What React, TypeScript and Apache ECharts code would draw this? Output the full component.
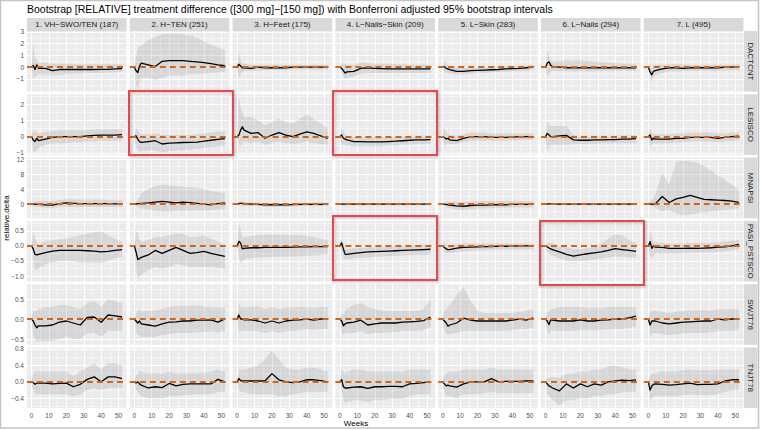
import React, { useEffect, useRef } from "react";
import * as echarts from "echarts";

const TITLE =
  "Bootstrap [RELATIVE] treatment difference ([300 mg]\u2212[150 mg]) with Bonferroni adjusted 95% bootstrap intervals";
const X_TITLE = "Weeks";
const Y_TITLE = "relative.delta";

const WEEKS = [0, 1, 2, 3, 4, 8, 12, 16, 20, 24, 28, 32, 36, 40, 44, 48, 52];
const FACETS = [
  "1. VH\u2212SWO/TEN (187)",
  "2. H\u2212TEN (251)",
  "3. H\u2212Feet (175)",
  "4. L\u2212Nails\u2212Skin (209)",
  "5. L\u2212Skin (283)",
  "6. L\u2212Nails (294)",
  "7. L (495)",
];
const OUTCOMES = ["DACTCNT", "LESISCO", "MNAPSI", "PASI_PSTSCO", "SWJT76", "TNJT78"];

const X_RANGE = [-2.6, 54.6];
const X_TICKS = [0, 10, 20, 30, 40, 50];
const X_MINOR = [5, 15, 25, 35, 45];
const Y_RANGES = [
  [-2.08, 3.08],
  [-1.12, 2.6],
  [-3.8, 12.45],
  [-1.18, 0.83],
  [-0.645, 0.87],
  [-0.64, 0.836],
];
const Y_TICKS = [
  [-1, 0, 1, 2, 3],
  [-1, 0, 1, 2],
  [0, 4, 8, 12],
  [-1, -0.5, 0, 0.5],
  [-0.5, 0, 0.5],
  [-0.4, 0, 0.4, 0.8],
];
const Y_MINOR = [
  [-1.5, -0.5, 0.5, 1.5, 2.5],
  [-0.5, 0.5, 1.5, 2.5],
  [-2, 2, 6, 10],
  [-0.75, -0.25, 0.25, 0.75],
  [-0.25, 0.25, 0.75],
  [-0.6, -0.2, 0.2, 0.6],
];
const Y_DECIMALS = [0, 0, 0, 1, 1, 1];

// ---------- DACTCNT ----------
const DACTCNT_MID = [
  [0, 0.15, -0.2, 0.2, -0.1, -0.1, -0.3, -0.2, -0.2, -0.2, -0.2, -0.2, -0.2, -0.18, -0.18, -0.15, -0.12],
  [0, -0.3, -0.45, 0.1, 0.35, 0.2, 0.05, 0.5, 0.55, 0.55, 0.55, 0.5, 0.45, 0.38, 0.3, 0.2, 0.12],
  [0, 0.25, 0.1, -0.05, -0.05, -0.1, 0, -0.05, -0.05, -0.05, -0.05, 0, 0, 0, 0, 0, 0],
  [0, -0.1, -0.3, -0.5, -0.4, -0.35, -0.1, -0.05, -0.1, -0.12, -0.15, -0.15, -0.15, -0.15, -0.15, -0.15, -0.15],
  [0, 0.05, -0.1, -0.15, -0.2, -0.35, -0.35, -0.3, -0.28, -0.25, -0.22, -0.2, -0.15, -0.12, -0.1, -0.05, 0],
  [0, 0.35, 0.45, 0.15, 0.05, 0, -0.05, -0.05, -0.05, -0.05, -0.05, -0.05, -0.05, -0.05, -0.05, -0.05, -0.05],
  [0, -0.4, -0.65, -0.35, -0.3, -0.15, -0.05, -0.05, -0.1, -0.05, -0.05, -0.05, -0.05, -0.05, 0, 0, 0.05],
];
const DACTCNT_LO = [
  [0, -0.95, -0.8, -0.7, -0.6, -0.65, -0.7, -0.65, -0.6, -0.55, -0.55, -0.5, -0.5, -0.5, -0.45, -0.45, -0.4],
  [0, -1.5, -1.84, -1.3, -0.9, -0.9, -1.1, -0.9, -0.7, -0.7, -0.7, -0.6, -0.6, -0.55, -0.5, -0.45, -0.4],
  [0, -1.0, -0.6, -0.4, -0.3, -0.3, -0.3, -0.25, -0.25, -0.25, -0.25, -0.2, -0.2, -0.2, -0.2, -0.2, -0.2],
  [0, -0.5, -0.8, -0.95, -0.9, -0.8, -0.55, -0.5, -0.5, -0.5, -0.5, -0.5, -0.5, -0.5, -0.5, -0.5, -0.5],
  [0, -0.5, -0.5, -0.5, -0.55, -0.6, -0.6, -0.55, -0.5, -0.5, -0.45, -0.4, -0.4, -0.35, -0.3, -0.3, -0.25],
  [0, -0.8, -0.6, -0.4, -0.3, -0.3, -0.35, -0.35, -0.35, -0.35, -0.35, -0.35, -0.3, -0.3, -0.3, -0.3, -0.3],
  [0, -0.9, -1.2, -0.8, -0.7, -0.5, -0.35, -0.35, -0.35, -0.3, -0.3, -0.3, -0.3, -0.3, -0.3, -0.25, -0.25],
];
const DACTCNT_HI = [
  [0, 2.0, 0.8, 0.6, 0.4, 0.4, 0.3, 0.3, 0.3, 0.25, 0.25, 0.25, 0.25, 0.25, 0.25, 0.25, 0.25],
  [0, 1.0, 1.6, 1.8, 1.8, 2.3, 2.6, 2.8, 2.85, 2.85, 2.8, 2.7, 2.5, 2.2, 1.9, 1.7, 1.5],
  [0, 1.4, 0.6, 0.3, 0.3, 0.2, 0.2, 0.2, 0.2, 0.2, 0.2, 0.2, 0.2, 0.2, 0.2, 0.2, 0.2],
  [0, 0.3, 0.3, 0.3, 0.2, 0.2, 0.4, 0.35, 0.3, 0.3, 0.3, 0.25, 0.25, 0.2, 0.2, 0.2, 0.2],
  [0, 0.6, 0.3, 0.2, 0.1, -0.05, -0.05, -0.05, -0.05, -0.02, 0, 0.05, 0.05, 0.1, 0.1, 0.15, 0.2],
  [0, 1.4, 1.0, 0.6, 0.5, 0.5, 0.6, 0.6, 0.6, 0.55, 0.5, 0.45, 0.4, 0.35, 0.3, 0.3, 0.3],
  [0, 0.2, 0, 0.2, 0.2, 0.2, 0.25, 0.25, 0.25, 0.2, 0.2, 0.2, 0.2, 0.2, 0.2, 0.2, 0.25],
];

// ---------- LESISCO ----------
const LESISCO_MID = [
  [0, -0.2, -0.3, -0.1, -0.25, -0.15, -0.05, 0, 0, 0, 0, 0.05, 0.08, 0.1, 0.1, 0.1, 0.12],
  [0, 0.05, -0.15, -0.3, -0.35, -0.3, -0.25, -0.45, -0.4, -0.38, -0.36, -0.35, -0.33, -0.28, -0.22, -0.17, -0.12],
  [0, 0.1, 0.4, 0.6, 0.4, 0.2, 0.25, -0.1, 0.1, 0.25, 0.1, 0, 0.15, 0.3, 0.2, 0.05, -0.1],
  [0, 0.1, -0.1, -0.15, -0.2, -0.3, -0.3, -0.32, -0.32, -0.32, -0.3, -0.28, -0.25, -0.22, -0.2, -0.2, -0.18],
  [0, -0.05, -0.15, -0.1, -0.2, -0.25, -0.1, 0, 0, 0, -0.05, -0.05, -0.05, -0.03, 0, 0, 0],
  [0, 0.2, 0.1, 0, 0, 0.05, 0.08, -0.2, -0.22, -0.22, -0.2, -0.2, -0.18, -0.18, -0.15, -0.15, -0.12],
  [0, 0.1, -0.2, -0.1, -0.15, -0.15, -0.15, -0.1, -0.1, -0.05, -0.05, -0.05, -0.05, -0.1, -0.05, 0, 0.03],
];
const LESISCO_LO = [
  [0, -0.9, -0.95, -0.8, -0.7, -0.5, -0.4, -0.4, -0.4, -0.35, -0.35, -0.3, -0.3, -0.25, -0.25, -0.25, -0.25],
  [0, -0.6, -0.8, -0.9, -0.9, -0.85, -0.85, -0.95, -0.9, -0.85, -0.85, -0.8, -0.75, -0.7, -0.65, -0.6, -0.55],
  [0, -0.5, -0.6, -0.3, -0.3, -0.4, -0.3, -0.5, -0.4, -0.3, -0.4, -0.45, -0.4, -0.3, -0.4, -0.45, -0.5],
  [0, -0.5, -0.5, -0.5, -0.55, -0.6, -0.6, -0.6, -0.6, -0.6, -0.55, -0.55, -0.5, -0.5, -0.45, -0.45, -0.45],
  [0, -0.6, -0.5, -0.4, -0.45, -0.45, -0.35, -0.25, -0.25, -0.25, -0.25, -0.25, -0.25, -0.22, -0.2, -0.2, -0.2],
  [0, -0.9, -0.6, -0.5, -0.5, -0.5, -0.5, -0.45, -0.45, -0.45, -0.45, -0.4, -0.4, -0.4, -0.4, -0.4, -0.4],
  [0, -0.6, -0.5, -0.4, -0.4, -0.4, -0.4, -0.35, -0.35, -0.3, -0.3, -0.3, -0.3, -0.35, -0.3, -0.25, -0.2],
];
const LESISCO_HI = [
  [0, 0.5, 0.3, 0.3, 0.2, 0.3, 0.35, 0.4, 0.4, 0.4, 0.4, 0.4, 0.45, 0.45, 0.45, 0.45, 0.45],
  [0, 0.6, 0.4, 0.2, 0.15, 0.15, 0.2, 0.1, 0.1, 0.1, 0.1, 0.1, 0.15, 0.2, 0.25, 0.3, 0.35],
  [0, 2.43, 1.8, 1.5, 1.2, 1.2, 1.0, 0.7, 0.9, 1.1, 0.9, 0.8, 1.1, 1.35, 1.1, 0.8, 0.5],
  [0, 0.6, 0.3, 0.1, 0.05, 0, 0, -0.02, -0.02, -0.02, 0, 0, 0.02, 0.05, 0.05, 0.05, 0.08],
  [0, 0.55, 0.3, 0.2, 0.1, 0.05, 0.15, 0.25, 0.25, 0.25, 0.2, 0.2, 0.2, 0.2, 0.2, 0.2, 0.2],
  [0, 1.0, 0.7, 0.65, 0.65, 0.65, 0.65, 0.1, 0.05, 0.05, 0.05, 0.05, 0.05, 0.05, 0.08, 0.08, 0.1],
  [0, 0.6, 0.2, 0.2, 0.15, 0.15, 0.15, 0.2, 0.2, 0.25, 0.25, 0.25, 0.25, 0.2, 0.2, 0.25, 0.25],
];

// ---------- MNAPSI ----------
const MNAPSI_MID = [
  [0, 0, 0, -0.1, -0.1, -0.2, -0.3, 0.1, 0.3, 0.2, 0.1, 0.1, 0.1, 0.1, 0.1, 0.05, 0.05],
  [0, 0, 0.1, 0.1, 0.2, 0.3, 0.5, 0.7, 0.5, 0.3, 0.5, 0.4, 0.2, 0, -0.2, 0.1, 0.3],
  [0, 0.1, 0.2, 0.2, 0.1, 0, -0.1, -0.2, -0.2, -0.2, -0.2, -0.15, -0.1, -0.1, -0.1, -0.1, -0.1],
  [0, 0, 0, 0, -0.05, -0.05, -0.05, -0.05, -0.05, -0.05, -0.05, -0.05, -0.05, -0.05, -0.05, -0.05, -0.05],
  [0, -0.1, -0.1, -0.2, -0.3, -0.5, -0.6, -0.4, -0.3, -0.3, -0.2, -0.2, -0.2, -0.1, -0.1, -0.1, -0.1],
  [0, 0, 0.05, 0.05, 0, 0, 0, 0, 0, 0, 0, 0, 0, 0, 0, 0, 0],
  [0, 0, 0, 0, 0.05, 2.0, 0.4, 1.4, 1.8, 2.3, 1.8, 1.25, 1.15, 1.07, 0.95, 0.8, 0.45],
];
const MNAPSI_LO = [
  [0, -0.6, -0.6, -0.8, -0.8, -1.0, -1.2, -0.8, -0.7, -0.8, -0.8, -0.8, -0.8, -0.8, -0.8, -0.8, -0.8],
  [0, -0.5, -0.8, -1.0, -1.2, -1.5, -1.8, -2.0, -2.0, -1.8, -1.8, -1.8, -1.7, -1.7, -1.7, -1.5, -1.4],
  [0, -0.4, -0.4, -0.4, -0.5, -0.6, -0.6, -0.7, -0.7, -0.7, -0.7, -0.6, -0.6, -0.6, -0.6, -0.6, -0.6],
  [0, -0.2, -0.3, -0.3, -0.3, -0.35, -0.35, -0.35, -0.35, -0.35, -0.35, -0.35, -0.35, -0.35, -0.35, -0.35, -0.35],
  [0, -0.6, -0.7, -0.9, -1.1, -1.4, -1.6, -1.4, -1.2, -1.2, -1.1, -1.0, -1.0, -0.9, -0.9, -0.9, -0.9],
  [0, -0.2, -0.25, -0.25, -0.25, -0.3, -0.3, -0.3, -0.3, -0.3, -0.3, -0.3, -0.3, -0.3, -0.3, -0.3, -0.3],
  [0, -0.3, -0.5, -0.8, -1.0, -2.0, -1.5, -2.5, -3.0, -2.8, -2.5, -2.2, -2.0, -1.8, -1.6, -1.4, -1.2],
];
const MNAPSI_HI = [
  [0, 0.6, 0.6, 0.8, 0.8, 0.8, 0.8, 1.1, 1.3, 1.3, 1.2, 1.2, 1.2, 1.2, 1.0, 1.0, 1.0],
  [0, 0.5, 1.0, 2.0, 3.0, 4.0, 4.8, 5.2, 5.0, 4.8, 4.7, 4.5, 4.3, 4.0, 3.5, 3.2, 3.0],
  [0, 0.6, 0.7, 0.7, 0.6, 0.5, 0.4, 0.3, 0.3, 0.3, 0.3, 0.3, 0.4, 0.4, 0.4, 0.4, 0.4],
  [0, 0.2, 0.2, 0.25, 0.25, 0.25, 0.25, 0.25, 0.25, 0.25, 0.25, 0.25, 0.25, 0.25, 0.25, 0.25, 0.25],
  [0, 0.5, 0.5, 0.6, 0.6, 0.6, 0.5, 0.6, 0.7, 0.8, 0.8, 0.8, 0.8, 0.8, 0.8, 0.8, 0.8],
  [0, 0.2, 0.3, 0.3, 0.3, 0.3, 0.3, 0.3, 0.3, 0.3, 0.3, 0.3, 0.3, 0.3, 0.3, 0.3, 0.3],
  [0, 0.5, 1.0, 1.5, 2.5, 8.4, 5.3, 11.2, 11.7, 11.5, 11.0, 10.2, 9.0, 7.5, 6.5, 5.2, 3.9],
];

// ---------- PASI_PSTSCO ----------
const PASI_MID = [
  [0, -0.1, -0.28, -0.3, -0.28, -0.22, -0.17, -0.15, -0.15, -0.15, -0.15, -0.16, -0.17, -0.2, -0.18, -0.15, -0.12],
  [0, -0.2, -0.45, -0.42, -0.38, -0.3, -0.15, -0.25, -0.15, -0.05, -0.15, -0.25, -0.22, -0.18, -0.25, -0.3, -0.35],
  [0, 0.15, 0.1, -0.1, -0.08, -0.06, -0.06, -0.05, -0.05, -0.05, -0.05, -0.04, -0.03, -0.03, -0.02, -0.02, -0.02],
  [0, 0.1, -0.1, -0.28, -0.28, -0.25, -0.22, -0.2, -0.19, -0.18, -0.17, -0.16, -0.15, -0.14, -0.13, -0.12, -0.11],
  [0, -0.05, -0.1, -0.12, -0.12, -0.07, -0.05, -0.04, -0.03, -0.02, -0.02, -0.01, -0.01, -0.01, 0, 0, 0],
  [0, -0.03, -0.07, -0.1, -0.12, -0.2, -0.28, -0.34, -0.3, -0.26, -0.23, -0.2, -0.15, -0.09, -0.12, -0.15, -0.18],
  [0, 0.14, -0.08, 0, -0.04, -0.05, -0.08, -0.08, -0.08, -0.07, -0.08, -0.07, -0.06, -0.04, -0.03, 0, 0.05],
];
const PASI_LO = [
  [0, -0.5, -0.8, -0.8, -0.75, -0.6, -0.55, -0.5, -0.5, -0.5, -0.55, -0.55, -0.55, -0.57, -0.5, -0.42, -0.36],
  [0, -0.7, -1.09, -1.0, -0.95, -0.8, -0.7, -0.75, -0.7, -0.6, -0.65, -0.7, -0.7, -0.7, -0.7, -0.72, -0.75],
  [0, -0.3, -0.58, -0.5, -0.45, -0.4, -0.38, -0.37, -0.36, -0.36, -0.35, -0.35, -0.34, -0.33, -0.32, -0.3, -0.28],
  [0, -0.2, -0.4, -0.45, -0.45, -0.42, -0.4, -0.38, -0.36, -0.35, -0.34, -0.33, -0.32, -0.31, -0.3, -0.3, -0.3],
  [0, -0.2, -0.25, -0.25, -0.25, -0.2, -0.18, -0.16, -0.15, -0.14, -0.13, -0.12, -0.12, -0.12, -0.12, -0.12, -0.12],
  [0, -0.2, -0.25, -0.3, -0.32, -0.42, -0.48, -0.5, -0.5, -0.48, -0.45, -0.42, -0.38, -0.35, -0.35, -0.38, -0.4],
  [0, -0.35, -0.4, -0.3, -0.25, -0.25, -0.25, -0.25, -0.24, -0.23, -0.23, -0.22, -0.21, -0.2, -0.18, -0.15, -0.12],
];
const PASI_HI = [
  [0, 0.45, 0.3, 0.1, 0.05, 0.15, 0.2, 0.22, 0.25, 0.3, 0.35, 0.4, 0.45, 0.48, 0.35, 0.25, 0.15],
  [0, 0.5, 0.4, 0.2, 0.15, 0.2, 0.3, 0.3, 0.35, 0.42, 0.4, 0.3, 0.3, 0.35, 0.25, 0.15, 0.05],
  [0, 0.74, 0.55, 0.3, 0.3, 0.33, 0.35, 0.37, 0.37, 0.37, 0.37, 0.35, 0.35, 0.33, 0.3, 0.25, 0.2],
  [0, 0.25, 0.1, -0.1, -0.1, -0.08, -0.06, -0.04, -0.03, -0.02, -0.01, 0, 0, 0.02, 0.03, 0.04, 0.05],
  [0, 0.12, 0.05, 0.02, 0.02, 0.06, 0.08, 0.08, 0.08, 0.08, 0.08, 0.08, 0.08, 0.08, 0.08, 0.08, 0.08],
  [0, 0.1, 0.1, 0.1, 0.1, 0, -0.05, -0.1, -0.1, -0.08, -0.02, 0.08, 0.25, 0.38, 0.35, 0.2, 0.1],
  [0, 0.5, 0.3, 0.15, 0.12, 0.1, 0.08, 0.07, 0.08, 0.1, 0.1, 0.1, 0.1, 0.12, 0.14, 0.17, 0.2],
];

// ---------- SWJT76 ----------
const SWJT_MID = [
  [0, -0.05, -0.15, -0.22, -0.17, -0.17, -0.15, -0.08, -0.05, -0.1, -0.15, 0.04, 0.05, -0.08, 0.1, 0.08, 0.05],
  [0, -0.05, -0.1, -0.05, -0.12, -0.15, -0.18, -0.12, -0.08, -0.07, -0.05, -0.05, -0.03, -0.03, -0.02, -0.08, 0],
  [0, 0.1, 0, 0, -0.02, -0.02, -0.05, -0.1, -0.05, -0.1, -0.05, -0.03, -0.02, 0, -0.03, 0, 0],
  [0, -0.05, -0.17, -0.12, -0.1, -0.08, -0.03, -0.15, -0.12, -0.1, -0.1, -0.1, -0.08, -0.07, -0.06, -0.04, 0.05],
  [0, -0.05, -0.1, -0.18, -0.15, -0.1, 0.02, -0.03, -0.05, -0.05, -0.05, -0.05, -0.05, -0.03, 0, -0.03, 0.03],
  [0, -0.05, -0.14, -0.02, -0.03, -0.05, -0.05, -0.05, -0.02, -0.05, -0.05, -0.03, -0.02, 0, 0, 0.03, 0.07],
  [0, -0.15, -0.05, -0.05, -0.05, -0.1, -0.12, -0.1, -0.08, -0.07, -0.06, -0.05, -0.05, 0, -0.02, 0, 0],
];
const SWJT_LO = [
  [0, -0.4, -0.5, -0.57, -0.55, -0.55, -0.55, -0.5, -0.45, -0.5, -0.5, -0.35, -0.35, -0.45, -0.3, -0.3, -0.3],
  [0, -0.3, -0.4, -0.4, -0.45, -0.45, -0.45, -0.4, -0.38, -0.35, -0.35, -0.35, -0.33, -0.33, -0.3, -0.33, -0.3],
  [0, -0.35, -0.3, -0.3, -0.3, -0.3, -0.3, -0.35, -0.3, -0.35, -0.3, -0.3, -0.28, -0.25, -0.28, -0.25, -0.25],
  [0, -0.3, -0.4, -0.35, -0.35, -0.35, -0.3, -0.38, -0.35, -0.35, -0.33, -0.33, -0.3, -0.3, -0.3, -0.28, -0.2],
  [0, -0.3, -0.35, -0.4, -0.38, -0.35, -0.3, -0.3, -0.3, -0.3, -0.3, -0.3, -0.3, -0.28, -0.25, -0.25, -0.22],
  [0, -0.3, -0.4, -0.3, -0.3, -0.3, -0.3, -0.3, -0.28, -0.28, -0.28, -0.27, -0.26, -0.25, -0.25, -0.22, -0.2],
  [0, -0.45, -0.35, -0.35, -0.35, -0.38, -0.4, -0.38, -0.36, -0.35, -0.35, -0.35, -0.33, -0.3, -0.3, -0.3, -0.28],
];
const SWJT_HI = [
  [0, 0.2, 0.2, 0.2, 0.25, 0.3, 0.3, 0.35, 0.35, 0.3, 0.25, 0.4, 0.45, 0.3, 0.5, 0.45, 0.4],
  [0, 0.15, 0.2, 0.25, 0.2, 0.2, 0.22, 0.25, 0.3, 0.32, 0.33, 0.33, 0.35, 0.3, 0.3, 0.28, 0.3],
  [0, 0.4, 0.3, 0.3, 0.28, 0.3, 0.32, 0.25, 0.3, 0.25, 0.28, 0.3, 0.3, 0.3, 0.28, 0.3, 0.3],
  [0, 0.15, 0.1, 0.2, 0.25, 0.35, 0.4, 0.3, 0.25, 0.22, 0.2, 0.2, 0.2, 0.2, 0.2, 0.25, 0.5],
  [0, 0.2, 0.25, 0.3, 0.35, 0.6, 0.8, 0.45, 0.2, 0.15, 0.15, 0.15, 0.15, 0.15, 0.18, 0.2, 0.25],
  [0, 0.2, 0.15, 0.25, 0.25, 0.3, 0.3, 0.3, 0.3, 0.28, 0.28, 0.28, 0.3, 0.3, 0.3, 0.3, 0.3],
  [0, 0.2, 0.2, 0.2, 0.2, 0.18, 0.15, 0.18, 0.2, 0.22, 0.22, 0.22, 0.22, 0.25, 0.25, 0.25, 0.25],
];

// ---------- TNJT78 ----------
const TNJT_MID = [
  [0, -0.02, -0.06, -0.03, -0.03, -0.03, -0.05, -0.04, -0.03, -0.12, -0.06, 0.06, 0.12, 0, 0.12, 0.12, 0.08],
  [0, -0.03, 0, -0.05, -0.08, -0.15, -0.12, -0.14, -0.04, -0.1, -0.06, -0.05, -0.05, -0.05, -0.05, 0.06, 0],
  [0, 0.08, 0.03, 0.02, 0.02, 0.02, 0.02, 0.02, 0.2, 0.05, 0, -0.02, 0, 0.05, 0.05, 0.03, 0],
  [0, 0.05, -0.12, -0.15, -0.15, -0.13, -0.12, -0.16, -0.12, -0.12, -0.11, -0.11, -0.12, -0.05, -0.04, -0.02, 0],
  [0, -0.05, -0.1, -0.08, -0.1, -0.13, -0.05, 0, 0, 0, 0.08, 0, 0.01, 0.01, 0.01, 0.02, 0.02],
  [0, -0.05, -0.1, -0.12, -0.15, -0.22, -0.05, -0.15, -0.05, -0.12, -0.05, -0.08, 0, 0.02, 0.04, 0.03, 0.05],
  [0, -0.2, -0.1, -0.06, -0.05, -0.06, -0.08, -0.07, -0.05, -0.03, -0.07, -0.06, -0.06, -0.05, 0.02, 0.05, 0.05],
];
const TNJT_LO = [
  [0, -0.2, -0.3, -0.3, -0.3, -0.3, -0.3, -0.3, -0.3, -0.35, -0.3, -0.2, -0.15, -0.2, -0.15, -0.15, -0.15],
  [0, -0.2, -0.25, -0.3, -0.35, -0.4, -0.4, -0.4, -0.35, -0.35, -0.33, -0.32, -0.3, -0.3, -0.3, -0.25, -0.25],
  [0, -0.2, -0.25, -0.25, -0.25, -0.3, -0.3, -0.3, -0.3, -0.35, -0.35, -0.3, -0.28, -0.25, -0.25, -0.25, -0.25],
  [0, -0.2, -0.45, -0.5, -0.5, -0.45, -0.45, -0.5, -0.45, -0.45, -0.42, -0.42, -0.42, -0.35, -0.3, -0.3, -0.3],
  [0, -0.25, -0.35, -0.35, -0.35, -0.4, -0.3, -0.3, -0.3, -0.28, -0.25, -0.28, -0.28, -0.28, -0.28, -0.28, -0.28],
  [0, -0.3, -0.35, -0.4, -0.45, -0.57, -0.45, -0.45, -0.4, -0.4, -0.35, -0.35, -0.3, -0.3, -0.25, -0.25, -0.25],
  [0, -0.45, -0.4, -0.35, -0.35, -0.35, -0.35, -0.35, -0.33, -0.3, -0.33, -0.32, -0.32, -0.3, -0.25, -0.22, -0.2],
];
const TNJT_HI = [
  [0, 0.2, 0.25, 0.25, 0.25, 0.25, 0.25, 0.25, 0.25, 0.15, 0.25, 0.35, 0.45, 0.3, 0.45, 0.45, 0.4],
  [0, 0.15, 0.2, 0.25, 0.25, 0.2, 0.22, 0.2, 0.25, 0.2, 0.22, 0.22, 0.22, 0.22, 0.25, 0.3, 0.25],
  [0, 0.3, 0.3, 0.3, 0.3, 0.35, 0.4, 0.55, 0.77, 0.55, 0.35, 0.3, 0.3, 0.35, 0.35, 0.3, 0.25],
  [0, 0.3, 0.25, 0.2, 0.25, 0.3, 0.3, 0.25, 0.25, 0.25, 0.25, 0.25, 0.25, 0.3, 0.3, 0.3, 0.3],
  [0, 0.15, 0.2, 0.25, 0.25, 0.25, 0.3, 0.3, 0.3, 0.3, 0.35, 0.3, 0.3, 0.3, 0.3, 0.3, 0.3],
  [0, 0.1, 0.1, 0.12, 0.12, 0.1, 0.2, 0.2, 0.25, 0.25, 0.3, 0.3, 0.38, 0.4, 0.35, 0.3, 0.3],
  [0, 0.15, 0.2, 0.22, 0.22, 0.25, 0.25, 0.25, 0.28, 0.3, 0.28, 0.28, 0.28, 0.3, 0.3, 0.3, 0.3],
];

const ROW_DATA = [
  [DACTCNT_MID, DACTCNT_LO, DACTCNT_HI],
  [LESISCO_MID, LESISCO_LO, LESISCO_HI],
  [MNAPSI_MID, MNAPSI_LO, MNAPSI_HI],
  [PASI_MID, PASI_LO, PASI_HI],
  [SWJT_MID, SWJT_LO, SWJT_HI],
  [TNJT_MID, TNJT_LO, TNJT_HI],
];

// ---------- layout / style ----------
const FONT = '"Liberation Sans", Arial, Helvetica, sans-serif';
const L0 = 27;
const PW = 99.6;
const DX = 102.8;
const T0 = 31;
const PH = 60.6;
const DY = 63.3;
const PANEL_BG = "#EBEBEB";
const STRIP_BG = "#D9D9D9";
const RIBBON_FILL = "rgba(128,128,128,0.2)";
const HLINE_COLOR = "#D0661A";
const BOX_COLOR = "#E8474C";

const fmt = (v: number, d: number) => v.toFixed(d).replace("-", "\u2212");

function buildOption() {
  const grids: any[] = [];
  const xAxes: any[] = [];
  const yAxes: any[] = [];
  const series: any[] = [];

  for (let r = 0; r < OUTCOMES.length; r++) {
    const [MID, LO, HI] = ROW_DATA[r];
    for (let c = 0; c < FACETS.length; c++) {
      const i = r * FACETS.length + c;
      const mid = MID[c];
      const lo = LO[c];
      const hi = HI[c];
      grids.push({
        left: L0 + c * DX,
        top: T0 + r * DY,
        width: PW,
        height: PH,
        show: true,
        backgroundColor: PANEL_BG,
        borderWidth: 0,
        containLabel: false,
        outerBoundsMode: "none",
      });
      const bottom = r === OUTCOMES.length - 1;
      const leftCol = c === 0;
      xAxes.push({
        type: "value",
        gridIndex: i,
        min: X_RANGE[0],
        max: X_RANGE[1],
        axisLine: { show: false },
        splitLine: { show: false },
        minorSplitLine: { show: false },
        axisTick: {
          show: bottom,
          length: 2.5,
          customValues: X_TICKS,
          lineStyle: { color: "#333333", width: 0.7 },
        },
        axisLabel: {
          show: bottom,
          customValues: X_TICKS,
          fontSize: 6.5,
          fontFamily: FONT,
          color: "#4D4D4D",
          margin: 3.5,
        },
      });
      yAxes.push({
        type: "value",
        gridIndex: i,
        min: Y_RANGES[r][0],
        max: Y_RANGES[r][1],
        axisLine: { show: false },
        splitLine: { show: false },
        minorSplitLine: { show: false },
        axisTick: {
          show: leftCol,
          length: 2.5,
          customValues: Y_TICKS[r],
          lineStyle: { color: "#333333", width: 0.7 },
        },
        axisLabel: {
          show: leftCol,
          customValues: Y_TICKS[r],
          fontSize: 6.5,
          fontFamily: FONT,
          color: "#4D4D4D",
          margin: 3,
          formatter: (v: number) => fmt(v, Y_DECIMALS[r]),
        },
      });

      const gridLines = [
        ...X_TICKS.map((v) => ({ xAxis: v, lineStyle: { width: 1 } })),
        ...X_MINOR.map((v) => ({ xAxis: v, lineStyle: { width: 0.5 } })),
        ...Y_TICKS[r].map((v) => ({ yAxis: v, lineStyle: { width: 1 } })),
        ...Y_MINOR[r].map((v) => ({ yAxis: v, lineStyle: { width: 0.5 } })),
      ];

      // ribbon (bootstrap interval)
      series.push({
        type: "custom",
        coordinateSystem: "cartesian2d",
        xAxisIndex: i,
        yAxisIndex: i,
        data: WEEKS.map((w, k) => [w, lo[k], hi[k]]),
        encode: { x: 0, y: [1, 2] },
        clip: true,
        silent: true,
        z: 2,
        renderItem: (params: any, api: any) => {
          if (params.dataIndex !== 0) return null;
          const pts: number[][] = [];
          for (let k = 0; k < WEEKS.length; k++) pts.push(api.coord([WEEKS[k], hi[k]]));
          for (let k = WEEKS.length - 1; k >= 0; k--) pts.push(api.coord([WEEKS[k], lo[k]]));
          return {
            type: "polygon",
            shape: { points: pts },
            style: { fill: RIBBON_FILL, stroke: null },
          };
        },
        markLine: {
          silent: true,
          z: 1,
          symbol: ["none", "none"],
          label: { show: false },
          emphasis: { disabled: true },
          lineStyle: { color: "#FFFFFF", type: "solid", width: 1 },
          data: gridLines,
        },
      });

      // estimate line
      series.push({
        type: "line",
        xAxisIndex: i,
        yAxisIndex: i,
        data: WEEKS.map((w, k) => [w, mid[k]]),
        symbol: "none",
        showSymbol: false,
        silent: true,
        z: 3,
        lineStyle: { color: "#000000", width: 1.3, join: "round" },
        markLine: {
          silent: true,
          z: 5,
          symbol: ["none", "none"],
          label: { show: false },
          emphasis: { disabled: true },
          lineStyle: { color: HLINE_COLOR, type: [6, 4], width: 2 },
          data: [{ yAxis: 0 }],
        },
      });
    }
  }

  const elements: any[] = [];
  elements.push({
    type: "text",
    x: 27,
    y: 9,
    style: {
      text: TITLE,
      fontSize: 10.5,
      fontFamily: FONT,
      fill: "#000000",
      align: "left",
      verticalAlign: "middle",
    },
  });
  FACETS.forEach((f, c) => {
    const x = L0 + c * DX;
    elements.push({ type: "rect", shape: { x, y: 18, width: PW, height: 13 }, style: { fill: STRIP_BG } });
    elements.push({
      type: "text",
      x: x + PW / 2,
      y: 24.7,
      style: { text: f, fontSize: 8, fontFamily: FONT, fill: "#1A1A1A", align: "center", verticalAlign: "middle" },
    });
  });
  const stripX = L0 + 6 * DX + PW + 0.6;
  OUTCOMES.forEach((o, r) => {
    const y = T0 + r * DY;
    elements.push({ type: "rect", shape: { x: stripX, y, width: 13.5, height: PH }, style: { fill: STRIP_BG } });
    elements.push({
      type: "text",
      x: stripX + 6.75,
      y: y + PH / 2,
      rotation: -Math.PI / 2,
      style: { text: o, fontSize: 8, fontFamily: FONT, fill: "#1A1A1A", align: "center", verticalAlign: "middle" },
    });
  });
  elements.push({
    type: "text",
    x: 356,
    y: 423,
    style: { text: X_TITLE, fontSize: 8, fontFamily: FONT, fill: "#000000", align: "center", verticalAlign: "middle" },
  });
  elements.push({
    type: "text",
    x: 6,
    y: 218,
    rotation: Math.PI / 2,
    style: { text: Y_TITLE, fontSize: 8, fontFamily: FONT, fill: "#000000", align: "center", verticalAlign: "middle" },
  });
  // highlight boxes
  const boxes = [
    [129, 91, 104, 64],
    [333, 91, 104, 64],
    [333, 216, 104, 64],
    [540, 221, 104, 64],
  ];
  boxes.forEach(([x, y, w, h]) => {
    elements.push({
      type: "rect",
      z: 100,
      shape: { x, y, width: w, height: h },
      style: {
        fill: "none",
        stroke: BOX_COLOR,
        lineWidth: 2,
        shadowBlur: 3,
        shadowColor: "rgba(0,0,0,0.3)",
        shadowOffsetX: 1,
        shadowOffsetY: 1,
      },
    });
  });
  // outer frame
  elements.push({
    type: "rect",
    z: 100,
    shape: { x: 0.5, y: 0.5, width: 758, height: 427.5 },
    style: { fill: "none", stroke: "#C4C4C4", lineWidth: 1.5 },
  });

  return {
    animation: false,
    backgroundColor: "#FFFFFF",
    textStyle: { fontFamily: FONT },
    grid: grids,
    xAxis: xAxes,
    yAxis: yAxes,
    series,
    graphic: { elements },
  };
}

export default function App() {
  const ref = useRef<HTMLDivElement>(null);
  useEffect(() => {
    if (!ref.current) return;
    const chart = echarts.init(ref.current, undefined, { renderer: "svg", width: 762, height: 430 });
    chart.setOption(buildOption() as any);
    return () => chart.dispose();
  }, []);
  return (
    <div
      ref={ref}
      style={{ position: "absolute", left: 0, top: 0, width: 762, height: 430, background: "#FFFFFF" }}
    />
  );
}
